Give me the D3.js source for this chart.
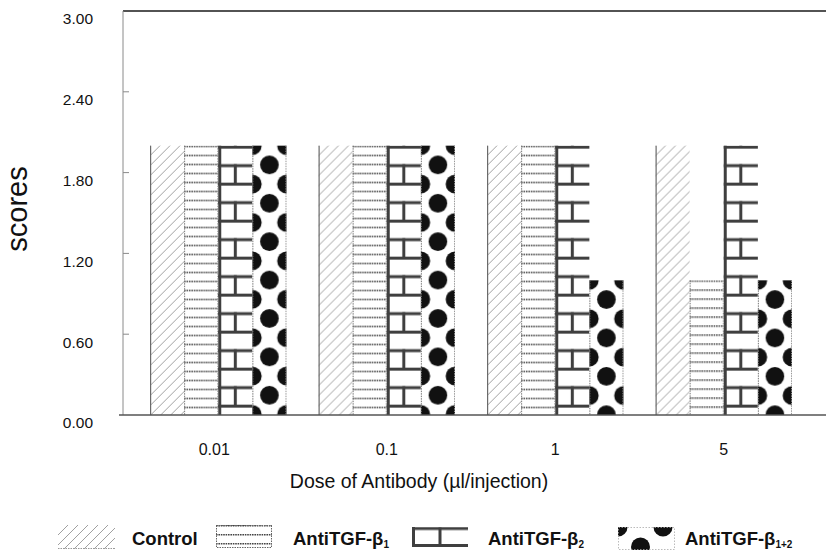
<!DOCTYPE html>
<html>
<head>
<meta charset="utf-8">
<script src="https://cdn.jsdelivr.net/npm/d3@7/dist/d3.min.js"></script>
<style>
  html, body { margin: 0; padding: 0; background: #fff; }
  svg { display: block; }
  text { font-family: "Liberation Sans", Arial, Helvetica, sans-serif; fill: #111; }
</style>
</head>
<body>
<svg id="chart" width="826" height="554"></svg>
<script>
// ---- data ----
const doses = ["0.01", "0.1", "1", "5"];
const seriesKeys = ["control", "anti1", "anti2", "anti12"];
const control = [2.0, 2.0, 2.0, 2.0];
const antiB1 = [2.0, 2.0, 2.0, 1.0];
const antiB2 = [2.0, 2.0, 2.0, 2.0];
const antiB12 = [2.0, 2.0, 1.0, 1.0];
const yTicks = [0.0, 0.6, 1.2, 1.8, 2.4, 3.0];
const legendLabels = [
  { base: "Control", sub: "" },
  { base: "AntiTGF-β", sub: "1" },
  { base: "AntiTGF-β", sub: "2" },
  { base: "AntiTGF-β", sub: "1+2" }
];
const seriesValues = [control, antiB1, antiB2, antiB12];

// ---- layout ----
const svg = d3.select("#chart");
const defs = svg.append("defs");
const plotLeft = 123, plotRight = 826, plotTop = 11, plotBottom = 415;

const y = d3.scaleLinear().domain([0, 3]).range([plotBottom, plotTop]);
const x0 = d3.scaleBand().domain(doses).range([134, 808]).paddingInner(0.19).paddingOuter(0.095);
const x1 = d3.scaleBand().domain(seriesKeys).range([0, x0.bandwidth()]);

// pattern factory
function makePattern(type, id, px, py, w, opts) {
  const p = defs.append("pattern").attr("id", id).attr("patternUnits", "userSpaceOnUse")
    .attr("x", px).attr("y", py);
  if (type === "control") {
    p.attr("width", 10).attr("height", 10);
    p.append("rect").attr("width", 10).attr("height", 10).attr("fill", "#fff");
    p.append("path").attr("d", "M0,10 L10,0 M-2.5,2.5 L2.5,-2.5 M7.5,12.5 L12.5,7.5")
      .attr("stroke", "#959595").attr("stroke-width", 0.9).attr("fill", "none");
  } else if (type === "anti1") {
    const h = 9;
    p.attr("width", w).attr("height", h);
    p.append("rect").attr("width", w).attr("height", h).attr("fill", "#fff");
    p.append("line").attr("x1", 0).attr("x2", w).attr("y1", 0.8).attr("y2", 0.8)
      .attr("stroke", "#444").attr("stroke-width", 1.5).attr("stroke-dasharray", "1.6,0.8");
  } else if (type === "anti2") {
    const h = 37, r = h / 2;
    p.attr("width", w).attr("height", h);
    p.append("rect").attr("width", w).attr("height", h).attr("fill", "#fff");
    p.append("rect").attr("x", 0).attr("y", 0).attr("width", w).attr("height", 3).attr("fill", "#3f3f3f");
    p.append("rect").attr("x", 0).attr("y", r).attr("width", w).attr("height", 3).attr("fill", "#3f3f3f");
    p.append("rect").attr("x", w / 2 - 1.5).attr("y", r).attr("width", 3).attr("height", r).attr("fill", "#3f3f3f");
  } else if (type === "anti12") {
    const h = opts && opts.h ? opts.h : 38.4, rr = opts && opts.r ? opts.r : 9.3;
    p.attr("width", w).attr("height", h);
    p.append("rect").attr("width", w).attr("height", h).attr("fill", "#fff");
    [[0, 0], [w, 0], [0, h], [w, h], [w / 2, h / 2]].forEach(c => {
      p.append("circle").attr("cx", c[0]).attr("cy", c[1]).attr("r", rr).attr("fill", "#111");
    });
  }
  return "url(#" + id + ")";
}

// ---- axes frame ----
svg.append("line").attr("x1", plotLeft).attr("x2", plotRight).attr("y1", plotTop).attr("y2", plotTop)
  .attr("stroke", "#1a1a1a").attr("stroke-width", 1.6);
svg.append("line").attr("x1", plotLeft).attr("x2", plotLeft).attr("y1", plotTop).attr("y2", plotBottom)
  .attr("stroke", "#8a8a8a").attr("stroke-width", 1);

// y ticks (inward) and labels (original has labels slightly below ticks)
const yAxisG = svg.append("g");
yAxisG.selectAll("line.tick").data(yTicks.filter(t => t > 0 && t < 3)).enter().append("line")
  .attr("x1", plotLeft).attr("x2", plotLeft + 6)
  .attr("y1", d => y(d)).attr("y2", d => y(d))
  .attr("stroke", "#8a8a8a").attr("stroke-width", 1);
yAxisG.selectAll("text").data(yTicks).enter().append("text")
  .attr("x", 93).attr("y", d => y(d) + 8).attr("dy", "0.35em")
  .attr("text-anchor", "end").attr("font-size", 15.5)
  .text(d => d3.format(".2f")(d));

// ---- bars ----
const groups = svg.append("g");
doses.forEach((dose, i) => {
  seriesKeys.forEach((key, j) => {
    const v = seriesValues[j][i];
    const bx = x0(dose) + x1(key);
    const bw = x1.bandwidth();
    const by = y(v);
    const bh = y(0) - y(v);
    const fill = makePattern(key, "p_" + key + "_" + i, bx, by, bw);
    groups.append("rect").attr("x", bx).attr("y", by).attr("width", bw).attr("height", bh)
      .attr("fill", fill);
    if (key === "control") {
      groups.append("line").attr("x1", bx + 0.6).attr("x2", bx + 0.6).attr("y1", by).attr("y2", plotBottom)
        .attr("stroke", "#6a6a6a").attr("stroke-width", 1.2);
    } else if (key === "anti2") {
      groups.append("line").attr("x1", bx + 1.5).attr("x2", bx + 1.5).attr("y1", by).attr("y2", plotBottom)
        .attr("stroke", "#3f3f3f").attr("stroke-width", 3);
    } else {
      groups.append("line").attr("x1", bx + 0.5).attr("x2", bx + 0.5).attr("y1", by).attr("y2", plotBottom)
        .attr("stroke", "#777").attr("stroke-width", 1).attr("stroke-dasharray", "1.5,1");
    }
    if (key === "anti12" || key === "anti1") {
      groups.append("line").attr("x1", bx + bw - 0.5).attr("x2", bx + bw - 0.5).attr("y1", by).attr("y2", plotBottom)
        .attr("stroke", "#999").attr("stroke-width", 1).attr("stroke-dasharray", "1.5,1");
    }
  });
});

// bottom axis line
svg.append("line").attr("x1", plotLeft - 4).attr("x2", plotRight).attr("y1", plotBottom).attr("y2", plotBottom)
  .attr("stroke", "#555").attr("stroke-width", 1.6);

// x labels
svg.selectAll("text.xlab").data(doses).enter().append("text").attr("class", "xlab")
  .attr("x", d => x0(d) + x0.bandwidth() / 2 - (d.length > 3 ? 4 : 0)).attr("y", 449).attr("dy", "0.35em")
  .attr("text-anchor", "middle").attr("font-size", 16)
  .text(d => d);

// axis titles
svg.append("text").attr("x", 419).attr("y", 488).attr("text-anchor", "middle")
  .attr("font-size", 19.5).text("Dose of Antibody (µl/injection)");
svg.append("text").attr("transform", "translate(27,209) rotate(-90)")
  .attr("text-anchor", "middle").attr("font-size", 29).text("scores");

// ---- legend ----
const legendSw = [
  { x: 58, y: 525, w: 57, h: 24 },
  { x: 216, y: 525, w: 56, h: 23 },
  { x: 412, y: 527, w: 56, h: 20 },
  { x: 618, y: 527, w: 57, h: 23 }
];
const legendTextX = [132, 293, 488, 685];
const lg = svg.append("g");
seriesKeys.forEach((key, j) => {
  const s = legendSw[j];
  let fill;
  if (key === "anti2") {
    fill = makePattern("anti2", "lp_" + key, s.x, s.y - 18.5, s.w);
  } else if (key === "anti12") {
    fill = makePattern("anti12", "lp_" + key, s.x, s.y, 45, { h: 40, r: 9.5 });
  } else {
    fill = makePattern(key, "lp_" + key, s.x, s.y, s.w);
  }
  lg.append("rect").attr("x", s.x).attr("y", s.y).attr("width", s.w).attr("height", s.h).attr("fill", fill);
  if (key === "anti1") {
    lg.append("rect").attr("x", s.x + 0.5).attr("y", s.y + 0.5).attr("width", s.w - 1).attr("height", s.h - 1)
      .attr("fill", "none").attr("stroke", "#666").attr("stroke-width", 1).attr("stroke-dasharray", "1.5,1");
  } else if (key === "anti2") {
    lg.append("rect").attr("x", s.x).attr("y", s.y + s.h - 3).attr("width", s.w).attr("height", 3).attr("fill", "#3f3f3f");
    lg.append("rect").attr("x", s.x).attr("y", s.y).attr("width", 3).attr("height", s.h).attr("fill", "#3f3f3f");
  } else if (key === "control") {
    lg.append("line").attr("x1", s.x).attr("x2", s.x + s.w).attr("y1", s.y + s.h - 0.5).attr("y2", s.y + s.h - 0.5)
      .attr("stroke", "#999").attr("stroke-dasharray", "1.5,1");
  } else {
    lg.append("rect").attr("x", s.x + 0.5).attr("y", s.y + 0.5).attr("width", s.w - 1).attr("height", s.h - 1)
      .attr("fill", "none").attr("stroke", "#aaa").attr("stroke-width", 0.8).attr("stroke-dasharray", "1.5,1.5");
  }
  const t = lg.append("text").attr("x", legendTextX[j]).attr("y", 545)
    .attr("font-size", 18.5).attr("font-weight", "bold");
  t.append("tspan").text(legendLabels[j].base);
  if (legendLabels[j].sub) {
    t.append("tspan").attr("font-size", 10).attr("dy", 3).text(legendLabels[j].sub);
  }
});
</script>
</body>
</html>
